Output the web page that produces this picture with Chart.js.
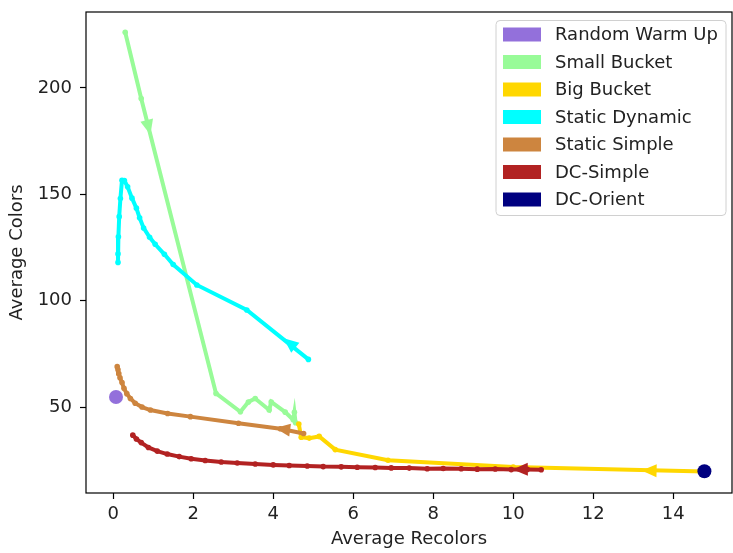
<!DOCTYPE html>
<html>
<head>
<meta charset="utf-8">
<script src="https://cdn.jsdelivr.net/npm/chart.js@4.4.1/dist/chart.umd.min.js"></script>
<style>
  html, body { margin: 0; padding: 0; background: #fff; }
  canvas { display: block; }
</style>
</head>
<body>
<canvas id="myChart" width="733" height="553"></canvas>
<script>
// Series, in the order they were plotted (later ones on top)
const seriesNames = ['Random Warm Up', 'Small Bucket', 'Big Bucket', 'Static Dynamic', 'Static Simple', 'DC-Simple', 'DC-Orient'];
const seriesColors = ['#9370DB', '#98FB98', '#FFD700', '#00FFFF', '#CD853F', '#B22222', '#000080'];

// [average recolors, average colors], in drawing order
const randomWarmUp = [[0.07, 54.7]];
const smallBucket = [
    [0.30, 226.2], [0.70, 195.0], [2.57, 56.4], [3.18, 47.8], [3.38, 52.4], [3.55, 54.0],
    [3.90, 48.6], [3.95, 52.4], [4.30, 47.6], [4.50, 44.0], [4.53, 47.5], [4.56, 42.6]
];
const bigBucket = [
    [14.78, 19.7], [10.00, 21.8], [6.87, 25.0], [5.55, 30.0], [5.15, 36.2],
    [4.90, 35.4], [4.70, 35.8], [4.64, 42.0]
];
const staticDynamic = [
    [4.88, 72.4], [3.34, 95.6], [2.09, 107.4], [1.50, 117.0], [1.28, 121.8], [1.05, 126.5],
    [0.91, 129.8], [0.76, 134.2], [0.66, 139.0], [0.58, 143.5], [0.47, 148.2], [0.36, 153.5],
    [0.28, 156.5], [0.22, 156.6], [0.18, 148.0], [0.15, 139.5], [0.13, 130.0], [0.12, 122.0],
    [0.12, 118.0]
];
const staticSimple = [
    [4.76, 37.6], [4.18, 39.8], [3.13, 42.4], [1.93, 45.5], [1.36, 47.0], [0.93, 48.6],
    [0.72, 50.0], [0.55, 51.8], [0.43, 54.0], [0.34, 56.3], [0.27, 58.8], [0.22, 61.5],
    [0.17, 63.8], [0.14, 65.8], [0.12, 67.5], [0.10, 69.0]
];
const dcSimple = [
    [10.70, 20.5], [10.35, 20.7], [9.95, 20.6], [9.55, 20.9], [9.10, 20.8], [8.70, 21.0],
    [8.25, 21.1], [7.85, 21.0], [7.40, 21.3], [6.95, 21.4], [6.55, 21.6], [6.10, 21.7],
    [5.70, 21.9], [5.25, 22.0], [4.85, 22.3], [4.40, 22.5], [4.00, 22.8], [3.55, 23.2],
    [3.10, 23.7], [2.70, 24.2], [2.30, 24.9], [1.95, 25.7], [1.65, 26.7], [1.35, 27.9],
    [1.10, 29.3], [0.88, 31.0], [0.70, 33.3], [0.58, 35.0], [0.49, 36.8]
];
const dcOrient = [[14.78, 19.8]];

// arrow heads: [tip x, tip y, index of the segment giving the direction]
const arrowHeads = {
    'Small Bucket': [0.93, 178.0, 1],
    'Big Bucket': [13.21, 20.2, 0],
    'Static Dynamic': [4.26, 82.3, 0],
    'Static Simple': [4.05, 40.1, 1],
    'DC-Simple': [9.99, 20.7, 1]
};

const xTicks = [0, 2, 4, 6, 8, 10, 12, 14];
const yTicks = [50, 100, 150, 200];
const xLimits = [-0.68, 15.47];
const yLimits = [9.6, 235.7];

const seriesData = [randomWarmUp, smallBucket, bigBucket, staticDynamic, staticSimple, dcSimple, dcOrient];

Chart.defaults.font.family = '"DejaVu Sans", sans-serif';
Chart.defaults.color = '#222';

// Draw an arrow head right after its own line, so layering stays right
const arrowPlugin = {
    id: 'arrowHeads',
    afterDatasetDraw(chart, args) {
        const ds = chart.data.datasets[args.index];
        const head = arrowHeads[ds.label];
        if (!head) return;
        const xs = chart.scales.x, ys = chart.scales.y;
        const p0 = ds.data[head[2]], p1 = ds.data[head[2] + 1];
        const dx = xs.getPixelForValue(p1.x) - xs.getPixelForValue(p0.x);
        const dy = ys.getPixelForValue(p1.y) - ys.getPixelForValue(p0.y);
        const len = Math.hypot(dx, dy);
        const ux = dx / len, uy = dy / len;
        const tx = xs.getPixelForValue(head[0]), ty = ys.getPixelForValue(head[1]);
        const L = 15, W = 6.5;
        const ctx = chart.ctx;
        ctx.save();
        ctx.fillStyle = ds.borderColor;
        ctx.beginPath();
        ctx.moveTo(tx, ty);
        ctx.lineTo(tx - ux * L - uy * W, ty - uy * L + ux * W);
        ctx.lineTo(tx - ux * L + uy * W, ty - uy * L - ux * W);
        ctx.closePath();
        ctx.fill();
        ctx.restore();
    }
};

// Matplotlib-like frame around the plot area
const framePlugin = {
    id: 'frame',
    afterDatasetsDraw(chart) {
        const a = chart.chartArea, ctx = chart.ctx;
        ctx.save();
        ctx.strokeStyle = '#000';
        ctx.lineWidth = 1.2;
        ctx.strokeRect(a.left, a.top, a.right - a.left, a.bottom - a.top);
        ctx.restore();
    }
};

// Legend box in the upper right corner with rectangular swatches
const legendPlugin = {
    id: 'boxLegend',
    afterDraw(chart) {
        const a = chart.chartArea, ctx = chart.ctx;
        const w = 230, h = 195;
        const x0 = a.right - 236, y0 = a.top + 8.5;
        ctx.save();
        ctx.beginPath();
        ctx.roundRect(x0, y0, w, h, 4);
        ctx.fillStyle = 'rgba(255,255,255,0.85)';
        ctx.fill();
        ctx.strokeStyle = '#d0d0d0';
        ctx.lineWidth = 1;
        ctx.stroke();
        ctx.font = '18px "DejaVu Sans", sans-serif';
        ctx.textBaseline = 'middle';
        chart.data.datasets.forEach((ds, i) => {
            const cy = y0 + 14 + i * 27.5;
            ctx.fillStyle = ds.borderColor;
            ctx.fillRect(x0 + 7, cy - 7, 38, 14);
            ctx.fillStyle = '#222';
            ctx.fillText(ds.label, x0 + 59, cy + 1);
        });
        ctx.restore();
    }
};

// keep the plot area where the reference has it: no extra label overhang padding
function noOverhang(scale) {
    scale.paddingLeft = 0;
    scale.paddingRight = 0;
    scale.paddingTop = 0;
    scale.paddingBottom = 0;
}

const ctx = document.getElementById('myChart').getContext('2d');

new Chart(ctx, {
    type: 'scatter',
    data: {
        datasets: seriesNames.map((name, i) => {
            const single = seriesData[i].length === 1;
            return {
                label: name,
                data: seriesData[i].map(([x, y]) => ({ x: x, y: y })),
                borderColor: seriesColors[i],
                backgroundColor: seriesColors[i],
                showLine: !single,
                borderWidth: 4,
                pointRadius: single ? 7 : 2.8,
                pointBorderWidth: 0,
                order: seriesNames.length - i
            };
        })
    },
    options: {
        responsive: false,
        animation: false,
        devicePixelRatio: 1,
        layout: { autoPadding: false, padding: { top: 12, right: 1, left: 0, bottom: 0 } },
        plugins: {
            legend: { display: false },
            tooltip: { enabled: false }
        },
        scales: {
            x: {
                type: 'linear',
                min: xLimits[0],
                max: xLimits[1],
                afterBuildTicks: (scale) => { scale.ticks = xTicks.map(v => ({ value: v })); },
                afterFit: (scale) => { scale.height = 60; noOverhang(scale); },
                grid: { drawOnChartArea: false, tickLength: 6, tickColor: '#000', tickWidth: 1.2 },
                border: { display: false },
                ticks: { font: { size: 18 }, padding: 5, maxRotation: 0 },
                title: { display: true, text: 'Average Recolors', font: { size: 18 }, padding: { top: 0, bottom: 3 } }
            },
            y: {
                type: 'linear',
                min: yLimits[0],
                max: yLimits[1],
                afterBuildTicks: (scale) => { scale.ticks = yTicks.map(v => ({ value: v })); },
                afterFit: (scale) => { scale.width = 86; noOverhang(scale); },
                grid: { drawOnChartArea: false, tickLength: 6, tickColor: '#000', tickWidth: 1.2 },
                border: { display: false },
                ticks: { font: { size: 18 }, padding: 8 },
                title: { display: true, text: 'Average Colors', font: { size: 18 }, padding: { top: 7, bottom: 0 } }
            }
        }
    },
    plugins: [arrowPlugin, framePlugin, legendPlugin]
});
</script>
</body>
</html>
